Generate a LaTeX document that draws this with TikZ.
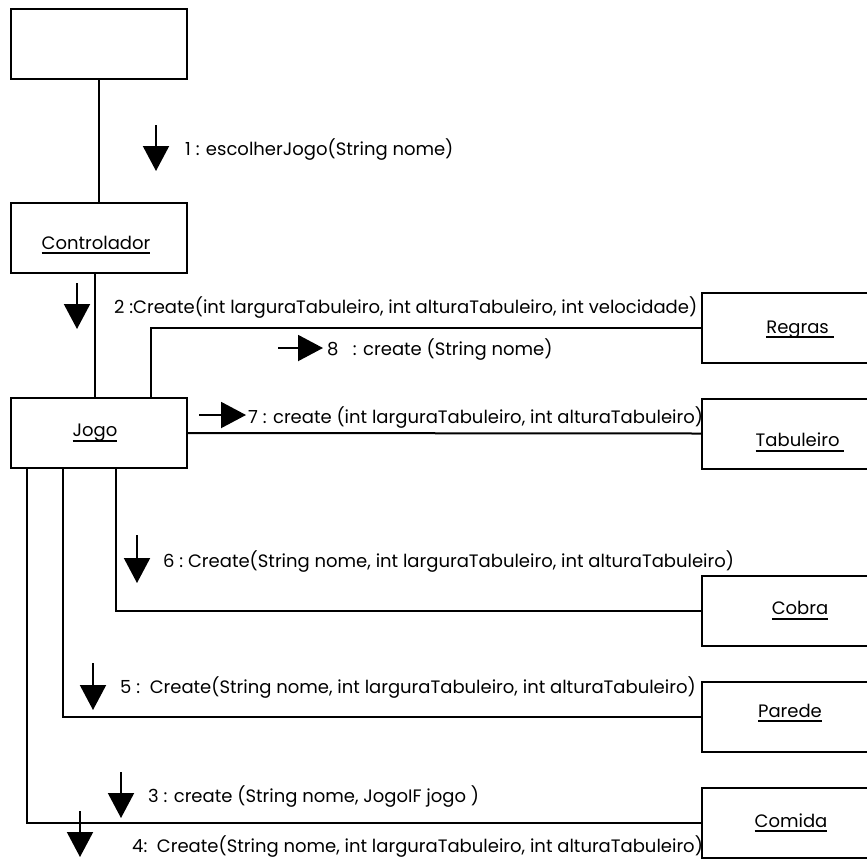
\documentclass[tikz,border=0pt]{standalone}
\usepackage{fontspec}
\setmainfont{Poppins}
\usetikzlibrary{arrows.meta}
% underline with a fixed rule thickness and offset
\newcommand\ulabel[1]{\setbox0\hbox{#1}\leavevmode\rlap{\vrule height -2.8pt depth 4.8pt width \wd0}\box0}
\begin{document}
\begin{tikzpicture}[x=1pt,y=-1pt,
  obj/.style={draw,line width=2pt,minimum width=176pt,minimum height=70pt,inner sep=0pt},
  lbl/.style={font=\fontsize{18}{22}\selectfont,inner sep=0pt},
  msgtext/.style={font=\fontsize{18}{22}\selectfont,inner sep=0pt,anchor=base west},
  link/.style={line width=2pt},
  msg/.style={line width=2pt,-{Triangle[width=26pt,length=25pt]}}]
\useasboundingbox (0,0) rectangle (867,860);

% objects
\node[obj] (actor) at (99,44) {};
\node[obj,label={[lbl,xshift=-3pt,yshift=-7pt]center:\ulabel{Controlador}}] (ctrl) at (99,238) {};
\node[obj,label={[lbl,xshift=-4pt]center:\ulabel{Jogo}}] (jogo) at (99,433) {};
\node[obj,label={[lbl,xshift=10pt,yshift=-2pt]center:\ulabel{Regras\ }}] (regras) at (790,327.5) {};
\node[obj,label={[lbl,xshift=10pt,yshift=-9pt]center:\ulabel{Tabuleiro\ }}] (tab) at (790,433.5) {};
\node[obj,label={[lbl,xshift=10pt]center:\ulabel{Cobra}}] (cobra) at (790,610.5) {};
\node[obj,label={[lbl,yshift=4pt]center:\ulabel{Parede}}] (parede) at (790,717) {};
\node[obj,label={[lbl,xshift=1pt]center:\ulabel{Comida}}] (comida) at (790,823) {};

% links
\draw[link] (actor.south) -- (ctrl.north);
\draw[link] ([xshift=-4pt]ctrl.south) -- ([xshift=-4pt]jogo.north);
\draw[link] ([xshift=141pt]jogo.north west) |- (regras.west);
\draw[link] (jogo.east) -- (tab.west);
\draw[link] ([xshift=106pt]jogo.south west) |- (cobra.west);
\draw[link] ([xshift=53pt]jogo.south west) |- (parede.west);
\draw[link] ([xshift=17pt]jogo.south west) |- (comida.west);

% messages
\draw[msg] (156,125) -- (156,171);
\node[msgtext] (m1) at (185,155) {1 : escolherJogo(String nome)};
\draw[msg] (77,283) -- (77,329);
\node[msgtext] (m2) at (114,313) {2 :Create(int larguraTabuleiro, int alturaTabuleiro, int velocidade)};
\draw[msg] (278,348) -- (323,348);
\node[msgtext] (m8) at (327,355) {8 \ \ : create (String nome)};
\draw[msg] (199,415) -- (246,415);
\node[msgtext] (m7) at (248,423) {7 : create (int larguraTabuleiro, int alturaTabuleiro)};
\draw[msg] (137,535) -- (137,583);
\node[msgtext] (m6) at (163,567) {6 :\ Create(String nome, int larguraTabuleiro, int alturaTabuleiro)};
\draw[msg] (93,663) -- (93,710);
\node[msgtext] (m5) at (120,693) {5 :\ \ Create(String nome, int larguraTabuleiro, int alturaTabuleiro)};
\draw[msg] (121,772) -- (121,818);
\node[msgtext] (m3) at (148,802) {3 : create (String nome, JogoIF jogo )};
\draw[msg] (80,811) -- (80,857);
\node[msgtext] (m4) at (132,852) {4:\ \ Create(String nome, int larguraTabuleiro, int alturaTabuleiro)};
\end{tikzpicture}
\end{document}
